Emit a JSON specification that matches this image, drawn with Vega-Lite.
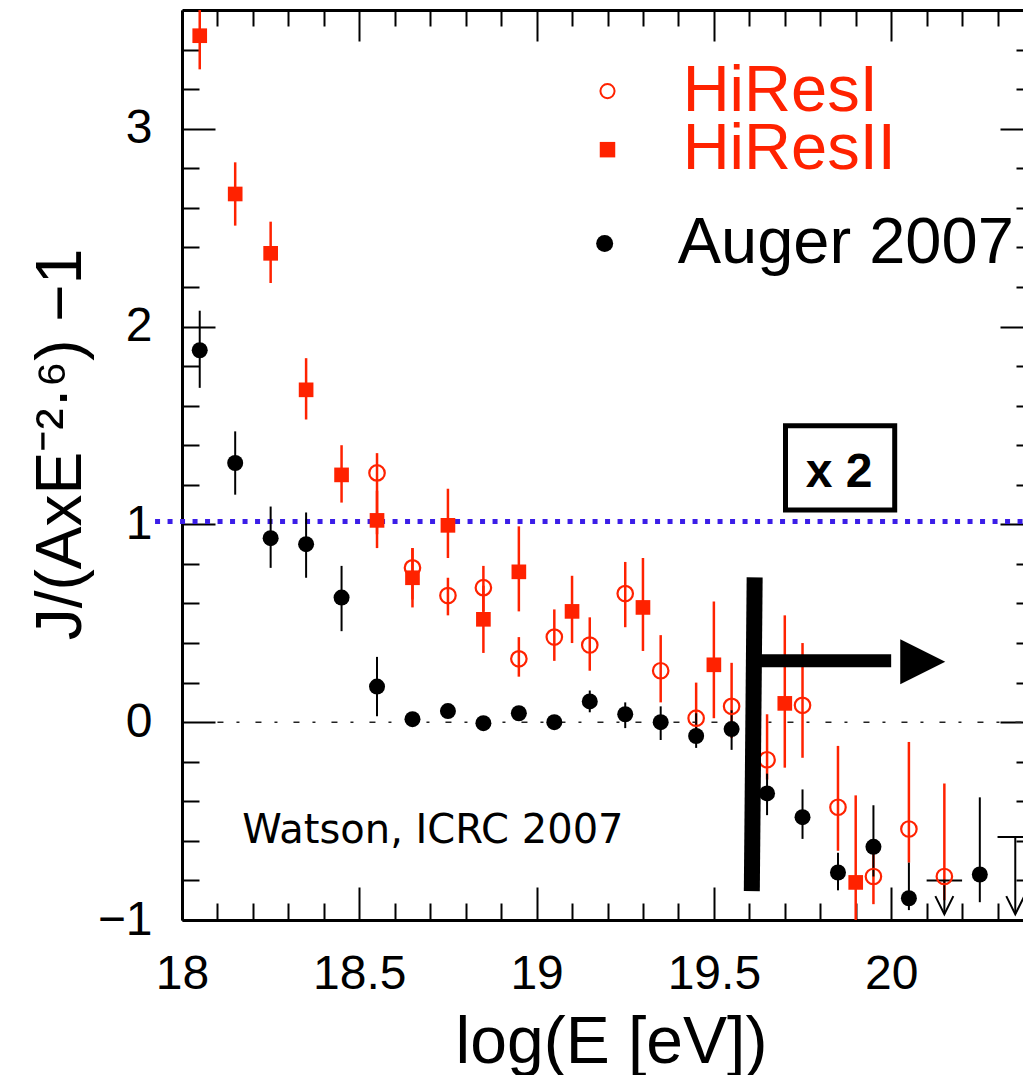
{
  "$schema": "https://vega.github.io/schema/vega-lite/v6.json",
  "autosize": {"type": "none"},
  "padding": {"left": 182, "top": 10, "right": 0, "bottom": 155},
  "width": 851,
  "height": 910,
  "background": "white",
  "config": {"view": {"stroke": null}, "axis": {"grid": false}},
  "datasets": {
    "pts": [
      {"s": "HiResI", "x": 18.55, "y": 1.26, "lo": 0.95, "hi": 1.36},
      {"s": "HiResI", "x": 18.65, "y": 0.78, "lo": 0.62, "hi": 0.88},
      {"s": "HiResI", "x": 18.75, "y": 0.64, "lo": 0.54, "hi": 0.73},
      {"s": "HiResI", "x": 18.85, "y": 0.68, "lo": 0.56, "hi": 0.79},
      {"s": "HiResI", "x": 18.95, "y": 0.32, "lo": 0.23, "hi": 0.43},
      {"s": "HiResI", "x": 19.05, "y": 0.43, "lo": 0.31, "hi": 0.57},
      {"s": "HiResI", "x": 19.15, "y": 0.39, "lo": 0.26, "hi": 0.53},
      {"s": "HiResI", "x": 19.25, "y": 0.65, "lo": 0.48, "hi": 0.81},
      {"s": "HiResI", "x": 19.35, "y": 0.26, "lo": 0.10, "hi": 0.44},
      {"s": "HiResI", "x": 19.45, "y": 0.02, "lo": -0.08, "hi": 0.20},
      {"s": "HiResI", "x": 19.55, "y": 0.08, "lo": -0.08, "hi": 0.30},
      {"s": "HiResI", "x": 19.65, "y": -0.19, "lo": -0.29, "hi": 0.04},
      {"s": "HiResI", "x": 19.75, "y": 0.085, "lo": -0.18, "hi": 0.40},
      {"s": "HiResI", "x": 19.85, "y": -0.43, "lo": -0.65, "hi": -0.12},
      {"s": "HiResI", "x": 19.95, "y": -0.78, "lo": -0.92, "hi": -0.60},
      {"s": "HiResI", "x": 20.05, "y": -0.54, "lo": -0.71, "hi": -0.10},
      {"s": "HiResI", "x": 20.15, "y": -0.78, "lo": -0.90, "hi": -0.31},
      {"s": "HiResII", "x": 18.05, "y": 3.47, "lo": 3.30, "hi": 3.60},
      {"s": "HiResII", "x": 18.15, "y": 2.67, "lo": 2.51, "hi": 2.83},
      {"s": "HiResII", "x": 18.25, "y": 2.37, "lo": 2.22, "hi": 2.53},
      {"s": "HiResII", "x": 18.35, "y": 1.68, "lo": 1.53, "hi": 1.84},
      {"s": "HiResII", "x": 18.45, "y": 1.25, "lo": 1.11, "hi": 1.40},
      {"s": "HiResII", "x": 18.55, "y": 1.02, "lo": 0.88, "hi": 1.17},
      {"s": "HiResII", "x": 18.65, "y": 0.73, "lo": 0.58, "hi": 0.88},
      {"s": "HiResII", "x": 18.75, "y": 0.995, "lo": 0.83, "hi": 1.18},
      {"s": "HiResII", "x": 18.85, "y": 0.52, "lo": 0.35, "hi": 0.69},
      {"s": "HiResII", "x": 18.95, "y": 0.76, "lo": 0.56, "hi": 0.99},
      {"s": "HiResII", "x": 19.10, "y": 0.56, "lo": 0.40, "hi": 0.74},
      {"s": "HiResII", "x": 19.30, "y": 0.58, "lo": 0.36, "hi": 0.83},
      {"s": "HiResII", "x": 19.50, "y": 0.29, "lo": 0.02, "hi": 0.61},
      {"s": "HiResII", "x": 19.70, "y": 0.095, "lo": -0.23, "hi": 0.54},
      {"s": "HiResII", "x": 19.90, "y": -0.81, "lo": -1.0, "hi": -0.37},
      {"s": "Auger", "x": 18.05, "y": 1.88, "lo": 1.69, "hi": 2.08},
      {"s": "Auger", "x": 18.15, "y": 1.31, "lo": 1.15, "hi": 1.47},
      {"s": "Auger", "x": 18.25, "y": 0.93, "lo": 0.78, "hi": 1.09},
      {"s": "Auger", "x": 18.35, "y": 0.90, "lo": 0.73, "hi": 1.06},
      {"s": "Auger", "x": 18.45, "y": 0.63, "lo": 0.46, "hi": 0.79},
      {"s": "Auger", "x": 18.55, "y": 0.18, "lo": 0.03, "hi": 0.33},
      {"s": "Auger", "x": 18.65, "y": 0.015, "lo": -0.01, "hi": 0.04},
      {"s": "Auger", "x": 18.75, "y": 0.056, "lo": 0.03, "hi": 0.08},
      {"s": "Auger", "x": 18.85, "y": -0.005, "lo": -0.03, "hi": 0.02},
      {"s": "Auger", "x": 18.95, "y": 0.045, "lo": 0.02, "hi": 0.07},
      {"s": "Auger", "x": 19.05, "y": 0.0, "lo": -0.025, "hi": 0.025},
      {"s": "Auger", "x": 19.15, "y": 0.105, "lo": 0.05, "hi": 0.16},
      {"s": "Auger", "x": 19.25, "y": 0.04, "lo": -0.03, "hi": 0.10},
      {"s": "Auger", "x": 19.35, "y": 0.0, "lo": -0.09, "hi": 0.08},
      {"s": "Auger", "x": 19.45, "y": -0.07, "lo": -0.13, "hi": 0.045},
      {"s": "Auger", "x": 19.55, "y": -0.035, "lo": -0.14, "hi": 0.06},
      {"s": "Auger", "x": 19.65, "y": -0.36, "lo": -0.47, "hi": -0.26},
      {"s": "Auger", "x": 19.75, "y": -0.48, "lo": -0.59, "hi": -0.34},
      {"s": "Auger", "x": 19.85, "y": -0.76, "lo": -0.85, "hi": -0.66},
      {"s": "Auger", "x": 19.95, "y": -0.63, "lo": -0.78, "hi": -0.42},
      {"s": "Auger", "x": 20.05, "y": -0.89, "lo": -0.95, "hi": -0.71},
      {"s": "Auger", "x": 20.25, "y": -0.77, "lo": -0.91, "hi": -0.38}
    ],
    "limits": [
      {"x": 20.15, "y": -0.80, "xa": 20.10, "xb": 20.20, "tip": -0.97, "head": -0.925},
      {"x": 20.35, "y": -0.58, "xa": 20.30, "xb": 20.40, "tip": -0.97, "head": -0.925}
    ],
    "legendSym": [
      {"s": "HiResI", "x": 19.20, "y": 3.19},
      {"s": "HiResII", "x": 19.20, "y": 2.894},
      {"s": "Auger", "x": 19.192, "y": 2.42}
    ],
    "legendTxt": [
      {"t": "HiResI", "x": 19.412, "y": 3.09, "c": "#ff2200"},
      {"t": "HiResII", "x": 19.412, "y": 2.798, "c": "#ff2200"},
      {"t": "Auger 2007", "x": 19.398, "y": 2.323, "c": "black"}
    ]
  },
  "resolve": {"axis": {"x": "independent", "y": "independent"}},
  "layer": [
    {
      "data": {"values": [{"xa": 17.924, "xb": 20.4, "y": 1.015}]},
      "mark": {"type": "rule", "color": "#3b1ee8", "strokeWidth": 5, "strokeDash": [5, 7.5]},
      "encoding": {
        "x": {"field": "xa", "type": "quantitative", "scale": {"domain": [18, 20.4], "nice": false, "zero": false}, "axis": null},
        "x2": {"field": "xb"},
        "y": {"field": "y", "type": "quantitative", "scale": {"domain": [-1, 3.6], "nice": false, "zero": false}, "axis": null}
      }
    },
    {
      "data": {"values": [{"xa": 18.1, "xb": 20.4, "y": 0}]},
      "mark": {"type": "rule", "color": "#222222", "strokeWidth": 1.5, "strokeDash": [6, 13, 3, 16]},
      "encoding": {
        "x": {"field": "xa", "type": "quantitative", "scale": {"domain": [18, 20.4], "nice": false, "zero": false}, "axis": null},
        "x2": {"field": "xb"},
        "y": {"field": "y", "type": "quantitative", "scale": {"domain": [-1, 3.6], "nice": false, "zero": false}, "axis": null}
      }
    },
    {
      "data": {"name": "pts"},
      "transform": [{"filter": "datum.s === 'HiResI'"}],
      "mark": {"type": "rule", "color": "#ff2200", "strokeWidth": 2.5},
      "encoding": {
        "x": {"field": "x", "type": "quantitative", "scale": {"domain": [18, 20.4], "nice": false, "zero": false},
          "axis": {"orient": "bottom", "values": [18, 18.5, 19, 19.5, 20], "format": "~g", "ticks": false, "tickSize": 0,
            "labelFont": "Liberation Sans", "labelFontSize": 48, "labelColor": "black", "labelPadding": 30, "labelFlush": false, "labelOverlap": false,
            "domain": true, "domainColor": "black", "domainWidth": 3, "grid": false,
            "title": "log(E [eV])", "titleFont": "Liberation Sans", "titleFontSize": 66, "titleFontWeight": "normal", "titleColor": "black",
            "titleX": 429, "titleY": 142, "titleBaseline": "alphabetic", "titleAlign": "center"}},
        "y": {"field": "lo", "type": "quantitative", "scale": {"domain": [-1, 3.6], "nice": false, "zero": false},
          "axis": {"orient": "left", "values": [-1, 0, 1, 2, 3], "format": "~g", "ticks": false, "tickSize": 0,
            "labelFont": "Liberation Sans", "labelFontSize": 48, "labelColor": "black", "labelPadding": 30, "labelFlush": false, "labelOverlap": false,
            "domain": true, "domainColor": "black", "domainWidth": 3, "grid": false,
            "title": "J/(AxE⁻²·⁶) −1", "titleFont": "Liberation Sans", "titleFontSize": 64, "titleFontWeight": "normal", "titleColor": "black",
            "titleX": -102, "titleY": 434, "titleAngle": 270, "titleBaseline": "alphabetic", "titleAlign": "center"}},
        "y2": {"field": "hi"}
      }
    },
    {
      "data": {"name": "pts"},
      "transform": [{"filter": "datum.s === 'HiResII'"}],
      "mark": {"type": "rule", "color": "#ff2200", "strokeWidth": 2.5},
      "encoding": {
        "x": {"field": "x", "type": "quantitative", "scale": {"domain": [18, 20.4], "nice": false, "zero": false},
          "axis": {"orient": "bottom", "values": [18, 18.5, 19, 19.5, 20], "labels": false, "ticks": true, "tickSize": -33, "tickWidth": 2, "tickColor": "black", "domain": false, "grid": false, "title": null}},
        "y": {"field": "lo", "type": "quantitative", "scale": {"domain": [-1, 3.6], "nice": false, "zero": false},
          "axis": {"orient": "left", "values": [-1, 0, 1, 2, 3], "labels": false, "ticks": true, "tickSize": -33, "tickWidth": 2, "tickColor": "black", "domain": false, "grid": false, "title": null}},
        "y2": {"field": "hi"}
      }
    },
    {
      "data": {"name": "pts"},
      "transform": [{"filter": "datum.s === 'Auger'"}],
      "mark": {"type": "rule", "color": "black", "strokeWidth": 2},
      "encoding": {
        "x": {"field": "x", "type": "quantitative", "scale": {"domain": [18, 20.4], "nice": false, "zero": false},
          "axis": {"orient": "bottom", "values": [18.1, 18.2, 18.3, 18.4, 18.6, 18.7, 18.8, 18.9, 19.1, 19.2, 19.3, 19.4, 19.6, 19.7, 19.8, 19.9, 20.1, 20.2, 20.3], "labels": false, "ticks": true, "tickSize": -17, "tickWidth": 2, "tickColor": "black", "domain": false, "grid": false, "title": null}},
        "y": {"field": "lo", "type": "quantitative", "scale": {"domain": [-1, 3.6], "nice": false, "zero": false},
          "axis": {"orient": "left", "values": [-0.8, -0.6, -0.4, -0.2, 0.2, 0.4, 0.6, 0.8, 1.2, 1.4, 1.6, 1.8, 2.2, 2.4, 2.6, 2.8, 3.2, 3.4], "labels": false, "ticks": true, "tickSize": -17, "tickWidth": 2, "tickColor": "black", "domain": false, "grid": false, "title": null}},
        "y2": {"field": "hi"}
      }
    },
    {
      "data": {"name": "limits"},
      "mark": {"type": "rule", "color": "black", "strokeWidth": 2},
      "encoding": {
        "x": {"field": "xa", "type": "quantitative", "scale": {"domain": [18, 20.4], "nice": false, "zero": false}, "axis": null},
        "x2": {"field": "xb"},
        "y": {"field": "y", "type": "quantitative", "scale": {"domain": [-1, 3.6], "nice": false, "zero": false}, "axis": null}
      }
    },
    {
      "data": {"name": "limits"},
      "mark": {"type": "rule", "color": "black", "strokeWidth": 2},
      "encoding": {
        "x": {"field": "x", "type": "quantitative", "scale": {"domain": [18, 20.4], "nice": false, "zero": false}, "axis": null},
        "y": {"field": "y", "type": "quantitative", "scale": {"domain": [-1, 3.6], "nice": false, "zero": false}, "axis": null},
        "y2": {"field": "tip"}
      }
    },
    {
      "data": {"name": "limits"},
      "mark": {"type": "point", "shape": "M-1,-1L0,1L1,-1", "filled": false, "stroke": "black", "strokeWidth": 2, "size": 324, "opacity": 1},
      "encoding": {
        "x": {"field": "x", "type": "quantitative", "scale": {"domain": [18, 20.4], "nice": false, "zero": false}, "axis": null},
        "y": {"field": "head", "type": "quantitative", "scale": {"domain": [-1, 3.6], "nice": false, "zero": false}, "axis": null}
      }
    },
    {
      "data": {"name": "pts"},
      "transform": [{"filter": "datum.s === 'HiResI'"}],
      "mark": {"type": "point", "shape": "circle", "filled": false, "stroke": "#ff2200", "strokeWidth": 2.2, "size": 240, "opacity": 1},
      "encoding": {
        "x": {"field": "x", "type": "quantitative", "scale": {"domain": [18, 20.4], "nice": false, "zero": false},
          "axis": {"orient": "top", "values": [18, 18.5, 19, 19.5, 20], "labels": false, "ticks": true, "tickSize": -31, "tickWidth": 2, "tickColor": "black", "domain": true, "domainColor": "black", "domainWidth": 3, "grid": false, "title": null}},
        "y": {"field": "y", "type": "quantitative", "scale": {"domain": [-1, 3.6], "nice": false, "zero": false},
          "axis": {"orient": "right", "values": [-1, 0, 1, 2, 3], "labels": false, "ticks": true, "tickSize": -33, "tickWidth": 2, "tickColor": "black", "domain": true, "domainColor": "black", "domainWidth": 3, "grid": false, "title": null}}
      }
    },
    {
      "data": {"name": "pts"},
      "transform": [{"filter": "datum.s === 'HiResII'"}],
      "mark": {"type": "point", "shape": "square", "filled": true, "color": "#ff2200", "size": 215, "opacity": 1},
      "encoding": {
        "x": {"field": "x", "type": "quantitative", "scale": {"domain": [18, 20.4], "nice": false, "zero": false},
          "axis": {"orient": "top", "values": [18.1, 18.2, 18.3, 18.4, 18.6, 18.7, 18.8, 18.9, 19.1, 19.2, 19.3, 19.4, 19.6, 19.7, 19.8, 19.9, 20.1, 20.2, 20.3], "labels": false, "ticks": true, "tickSize": -16, "tickWidth": 2, "tickColor": "black", "domain": false, "grid": false, "title": null}},
        "y": {"field": "y", "type": "quantitative", "scale": {"domain": [-1, 3.6], "nice": false, "zero": false},
          "axis": {"orient": "right", "values": [-0.8, -0.6, -0.4, -0.2, 0.2, 0.4, 0.6, 0.8, 1.2, 1.4, 1.6, 1.8, 2.2, 2.4, 2.6, 2.8, 3.2, 3.4], "labels": false, "ticks": true, "tickSize": -17, "tickWidth": 2, "tickColor": "black", "domain": false, "grid": false, "title": null}}
      }
    },
    {
      "data": {"name": "pts"},
      "transform": [{"filter": "datum.s === 'Auger'"}],
      "mark": {"type": "point", "shape": "circle", "filled": true, "color": "black", "size": 256, "opacity": 1},
      "encoding": {
        "x": {"field": "x", "type": "quantitative", "scale": {"domain": [18, 20.4], "nice": false, "zero": false}, "axis": null},
        "y": {"field": "y", "type": "quantitative", "scale": {"domain": [-1, 3.6], "nice": false, "zero": false}, "axis": null}
      }
    },
    {
      "data": {"values": [{"xa": 19.615, "xb": 19.607, "ya": 0.732, "yb": -0.854}]},
      "mark": {"type": "rule", "color": "black", "strokeWidth": 16},
      "encoding": {
        "x": {"field": "xa", "type": "quantitative", "scale": {"domain": [18, 20.4], "nice": false, "zero": false}, "axis": null},
        "x2": {"field": "xb"},
        "y": {"field": "ya", "type": "quantitative", "scale": {"domain": [-1, 3.6], "nice": false, "zero": false}, "axis": null},
        "y2": {"field": "yb"}
      }
    },
    {
      "data": {"values": [{"xa": 19.63, "xb": 20.0, "y": 0.31}]},
      "mark": {"type": "rule", "color": "black", "strokeWidth": 13},
      "encoding": {
        "x": {"field": "xa", "type": "quantitative", "scale": {"domain": [18, 20.4], "nice": false, "zero": false}, "axis": null},
        "x2": {"field": "xb"},
        "y": {"field": "y", "type": "quantitative", "scale": {"domain": [-1, 3.6], "nice": false, "zero": false}, "axis": null}
      }
    },
    {
      "data": {"values": [{"x": 20.089, "y": 0.306}]},
      "mark": {"type": "point", "shape": "M-1,-1L1,0L-1,1Z", "filled": true, "color": "black", "size": 2025, "opacity": 1},
      "encoding": {
        "x": {"field": "x", "type": "quantitative", "scale": {"domain": [18, 20.4], "nice": false, "zero": false}, "axis": null},
        "y": {"field": "y", "type": "quantitative", "scale": {"domain": [-1, 3.6], "nice": false, "zero": false}, "axis": null}
      }
    },
    {
      "data": {"values": [{"xa": 19.702, "xb": 20.01, "ya": 1.498, "yb": 1.073}]},
      "mark": {"type": "rect", "fill": "white", "fillOpacity": 0, "stroke": "black", "strokeWidth": 5},
      "encoding": {
        "x": {"field": "xa", "type": "quantitative", "scale": {"domain": [18, 20.4], "nice": false, "zero": false}, "axis": null},
        "x2": {"field": "xb"},
        "y": {"field": "ya", "type": "quantitative", "scale": {"domain": [-1, 3.6], "nice": false, "zero": false}, "axis": null},
        "y2": {"field": "yb"}
      }
    },
    {
      "data": {"values": [{"t": "x 2", "x": 19.853, "y": 1.187}]},
      "mark": {"type": "text", "font": "Liberation Sans", "fontSize": 48, "fontWeight": "bold", "color": "black", "align": "center", "baseline": "alphabetic"},
      "encoding": {
        "x": {"field": "x", "type": "quantitative", "scale": {"domain": [18, 20.4], "nice": false, "zero": false}, "axis": null},
        "y": {"field": "y", "type": "quantitative", "scale": {"domain": [-1, 3.6], "nice": false, "zero": false}, "axis": null},
        "text": {"field": "t"}
      }
    },
    {
      "data": {"values": [{"t": "Watson, ICRC 2007", "x": 18.17, "y": -0.61}]},
      "mark": {"type": "text", "font": "DejaVu Sans", "fontSize": 40, "color": "black", "align": "left", "baseline": "alphabetic"},
      "encoding": {
        "x": {"field": "x", "type": "quantitative", "scale": {"domain": [18, 20.4], "nice": false, "zero": false}, "axis": null},
        "y": {"field": "y", "type": "quantitative", "scale": {"domain": [-1, 3.6], "nice": false, "zero": false}, "axis": null},
        "text": {"field": "t"}
      }
    },
    {
      "data": {"name": "legendSym"},
      "transform": [{"filter": "datum.s === 'HiResI'"}],
      "mark": {"type": "point", "shape": "circle", "filled": false, "stroke": "#ff2200", "strokeWidth": 2, "size": 200, "opacity": 1},
      "encoding": {
        "x": {"field": "x", "type": "quantitative", "scale": {"domain": [18, 20.4], "nice": false, "zero": false}, "axis": null},
        "y": {"field": "y", "type": "quantitative", "scale": {"domain": [-1, 3.6], "nice": false, "zero": false}, "axis": null}
      }
    },
    {
      "data": {"name": "legendSym"},
      "transform": [{"filter": "datum.s === 'HiResII'"}],
      "mark": {"type": "point", "shape": "square", "filled": true, "color": "#ff2200", "size": 240, "opacity": 1},
      "encoding": {
        "x": {"field": "x", "type": "quantitative", "scale": {"domain": [18, 20.4], "nice": false, "zero": false}, "axis": null},
        "y": {"field": "y", "type": "quantitative", "scale": {"domain": [-1, 3.6], "nice": false, "zero": false}, "axis": null}
      }
    },
    {
      "data": {"name": "legendSym"},
      "transform": [{"filter": "datum.s === 'Auger'"}],
      "mark": {"type": "point", "shape": "circle", "filled": true, "color": "black", "size": 290, "opacity": 1},
      "encoding": {
        "x": {"field": "x", "type": "quantitative", "scale": {"domain": [18, 20.4], "nice": false, "zero": false}, "axis": null},
        "y": {"field": "y", "type": "quantitative", "scale": {"domain": [-1, 3.6], "nice": false, "zero": false}, "axis": null}
      }
    },
    {
      "data": {"name": "legendTxt"},
      "mark": {"type": "text", "font": "Liberation Sans", "fontSize": 65, "align": "left", "baseline": "alphabetic"},
      "encoding": {
        "x": {"field": "x", "type": "quantitative", "scale": {"domain": [18, 20.4], "nice": false, "zero": false}, "axis": null},
        "y": {"field": "y", "type": "quantitative", "scale": {"domain": [-1, 3.6], "nice": false, "zero": false}, "axis": null},
        "text": {"field": "t"},
        "color": {"field": "c", "type": "nominal", "scale": null, "legend": null}
      }
    }
  ]
}
